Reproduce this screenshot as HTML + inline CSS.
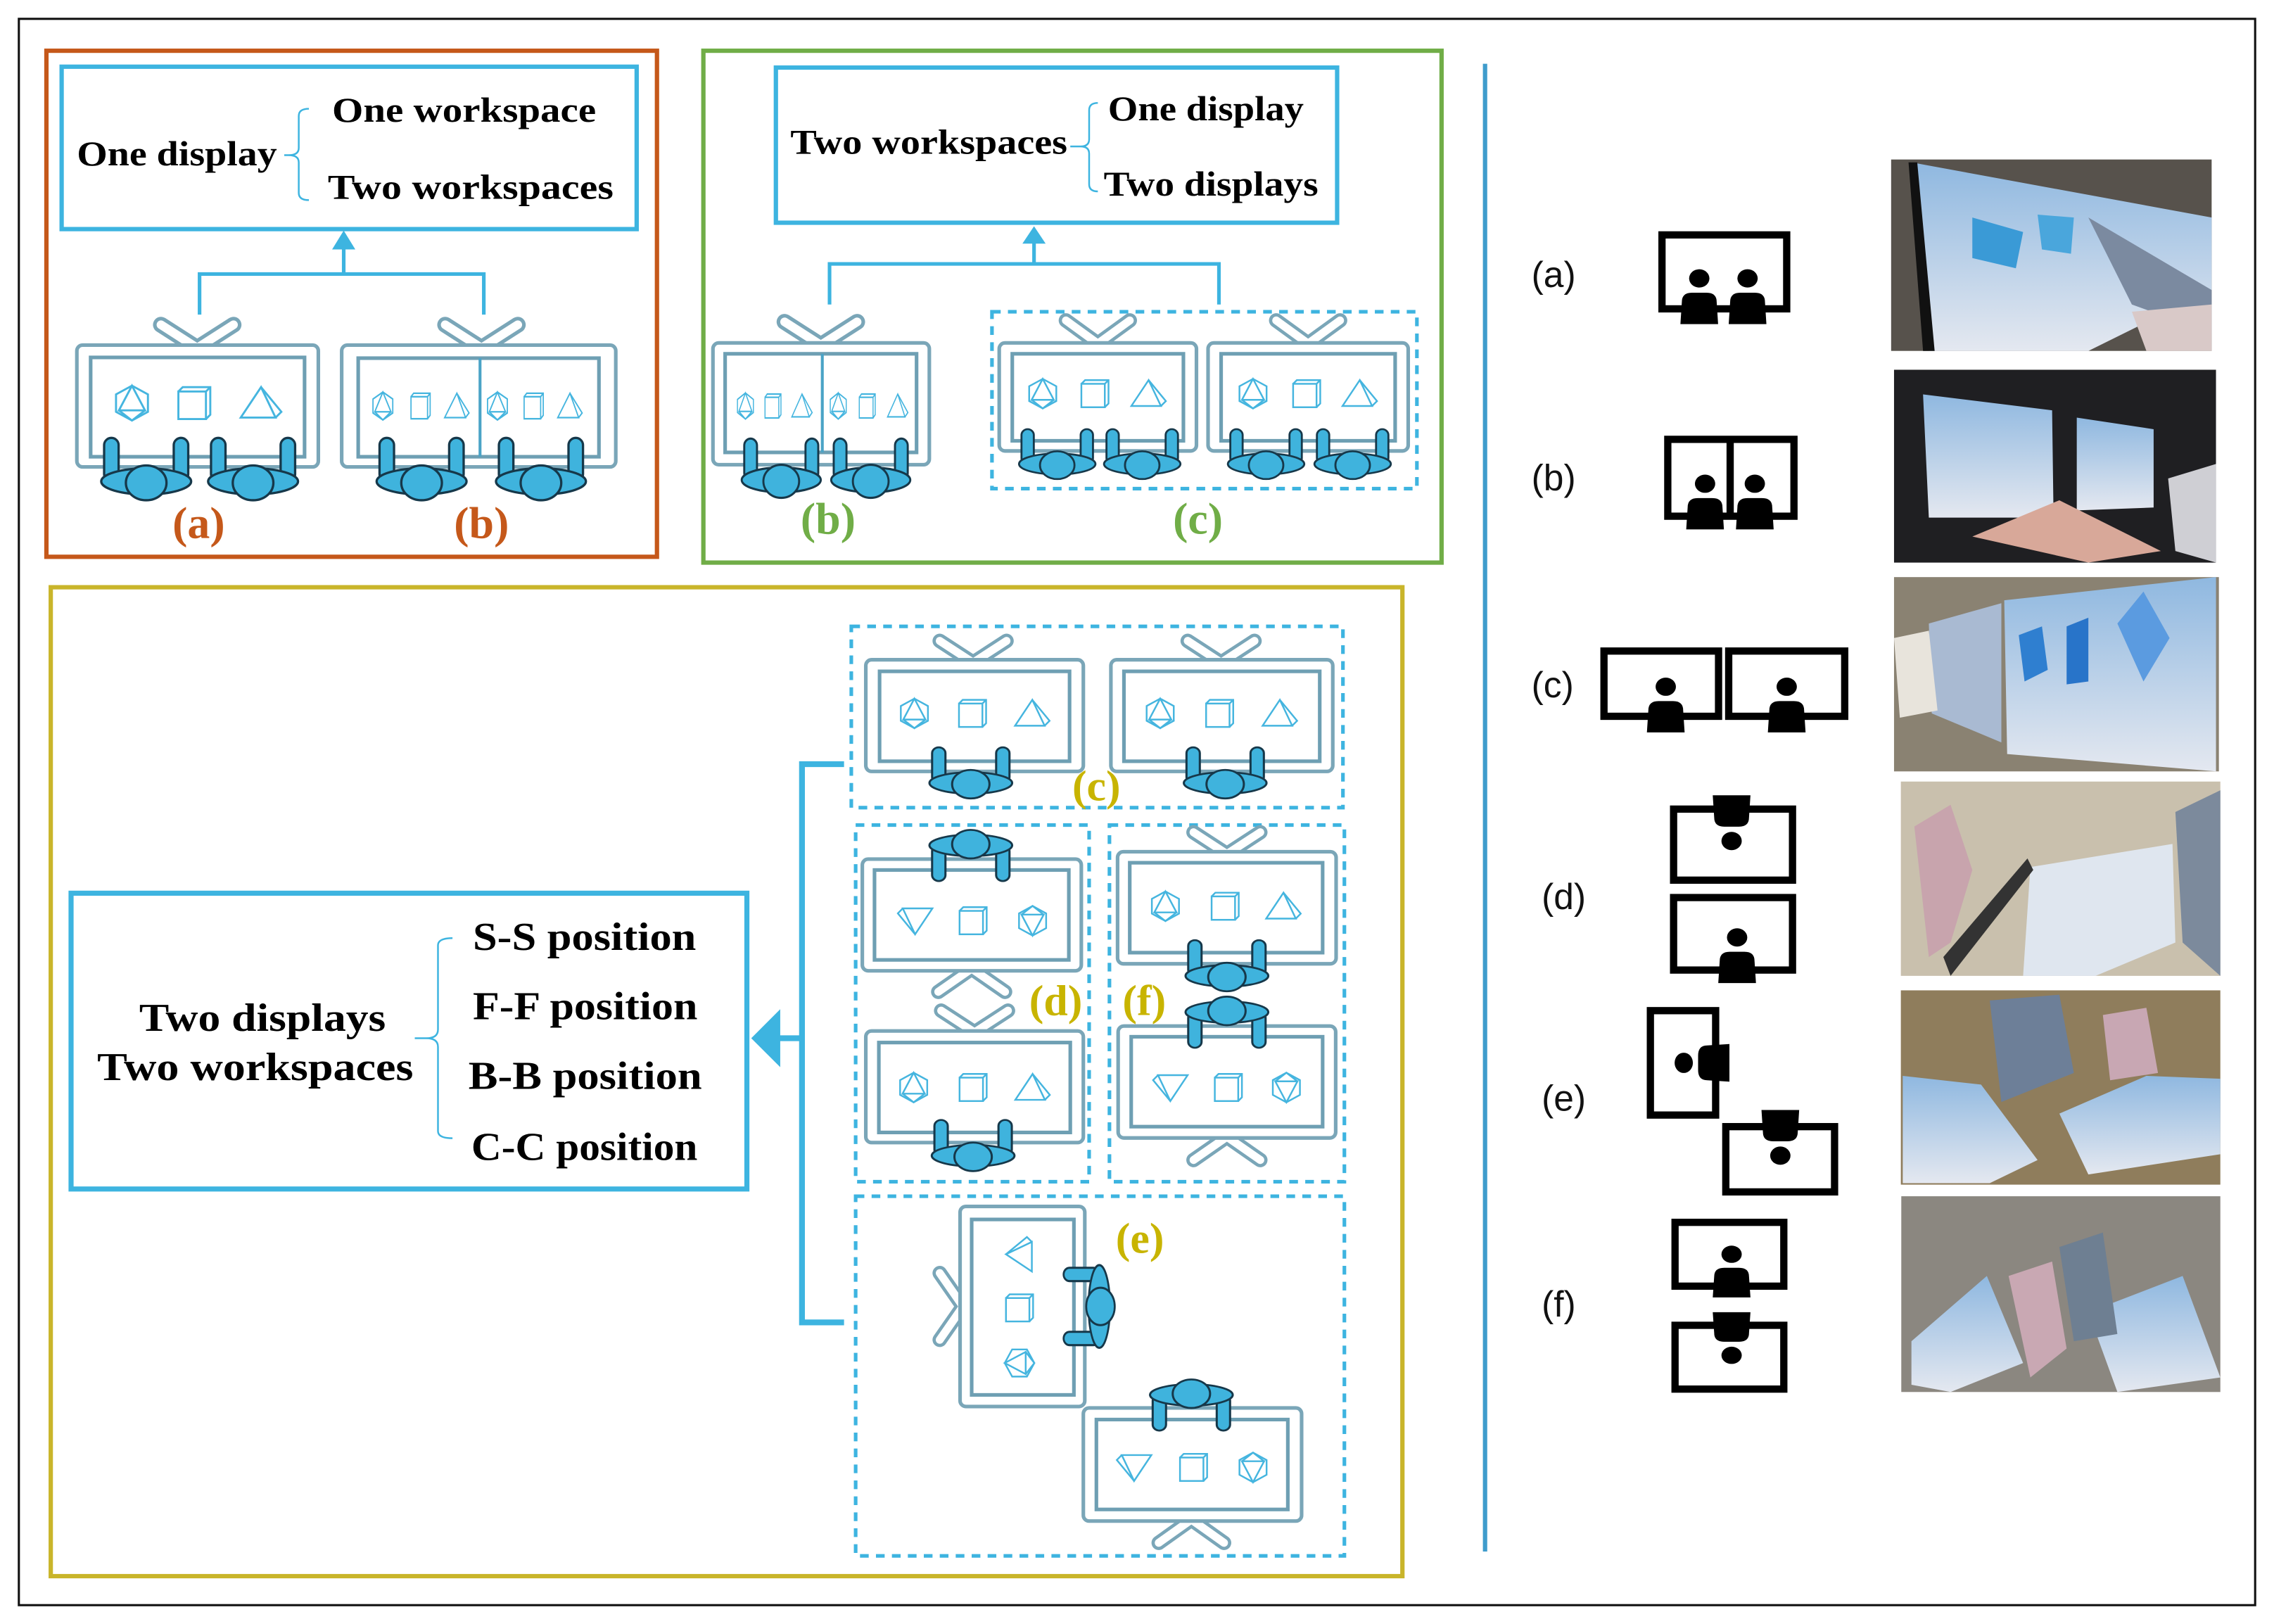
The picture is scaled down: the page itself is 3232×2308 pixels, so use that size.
<!DOCTYPE html>
<html><head><meta charset="utf-8"><style>
html,body{margin:0;padding:0;background:#fff;}
svg{display:block;}
</style></head><body>
<svg width="3232" height="2308" viewBox="0 0 1568 1120" preserveAspectRatio="none" xmlns="http://www.w3.org/2000/svg">
<defs>
  <g id="poly" fill="none" stroke="#45b5df" stroke-width="1.4">
    <polygon points="-11,-6 0,-12 11,-6 11,6 0,12 -11,6"/>
    <polygon points="0,-12 -9,5 9,5"/>
    <polyline points="-9,5 0,12 9,5"/>
  </g>
  <g id="cube" fill="none" stroke="#45b5df" stroke-width="1.4">
    <rect x="-11" y="-8" width="19" height="19"/>
    <polyline points="-11,-8 -8,-11 11,-11 11,8 8,11"/>
    <line x1="8" y1="-8" x2="11" y2="-11"/>
  </g>
  <g id="tri" fill="none" stroke="#45b5df" stroke-width="1.4">
    <polygon points="-14,10 0,-11 10,10"/>
    <polyline points="0,-11 14,6 10,10"/>
  </g>
  <g id="pu" fill="#3fb3dd" stroke="#16384a" stroke-width="1.6">
    <rect x="-29" y="-30" width="10" height="30" rx="5"/>
    <rect x="19" y="-30" width="10" height="30" rx="5"/>
    <ellipse cx="0" cy="0" rx="31" ry="9"/>
    <ellipse cx="0" cy="1" rx="14" ry="12"/>
  </g>
  <g id="bp" fill="#000">
    <circle cx="0" cy="0" r="7"/>
    <path d="M-13,35 L-12,18 Q-12,11 -5,11 L5,11 Q12,11 12,18 L13,35 Z"/>
  </g>
  <linearGradient id="scr" x1="0" y1="0" x2="0" y2="1">
    <stop offset="0" stop-color="#8fb8e0"/><stop offset="1" stop-color="#e4e8f0"/>
  </linearGradient>
</defs>

<!-- outer border -->
<rect x="13" y="13" width="1542" height="1094" fill="#fff" stroke="#111" stroke-width="1.5"/>

<!-- ============ ORANGE PANEL ============ -->
<rect x="32" y="35" width="421" height="349" fill="none" stroke="#c5581a" stroke-width="3"/>
<rect x="42.5" y="46" width="396.5" height="112" fill="none" stroke="#3db4e0" stroke-width="3"/>
<g font-family="Liberation Serif, serif" font-weight="bold" font-size="24" fill="#000">
  <text x="53" y="114" textLength="138" lengthAdjust="spacingAndGlyphs">One display</text>
  <text x="229" y="84" textLength="182" lengthAdjust="spacingAndGlyphs">One workspace</text>
  <text x="226" y="137" textLength="197" lengthAdjust="spacingAndGlyphs">Two workspaces</text>
</g>
<path d="M213,75 Q206,75 206,80 L206,102 Q206,107 199,107 Q206,107 206,112 L206,133 Q206,138 213,138 M196,107 L200,107" fill="none" stroke="#3db4e0" stroke-width="1.2"/>
<!-- connector -->
<path d="M137.6,217 L137.6,189 L333.6,189 L333.6,217 M237,189 L237,170" fill="none" stroke="#3db4e0" stroke-width="2.5"/>
<polygon points="229,172 245,172 237,159" fill="#3db4e0"/>

<!-- display (a) -->
<path d="M111,224 L136,240 L161,224" fill="none" stroke="#7aa6b8" stroke-width="11" stroke-linecap="round" stroke-linejoin="round"/>
<path d="M111,224 L136,240 L161,224" fill="none" stroke="#fff" stroke-width="6" stroke-linecap="round" stroke-linejoin="round"/>
<rect x="53" y="238" width="166.5" height="84" rx="4" fill="#fff" stroke="#7aa6b8" stroke-width="2.5"/>
<rect x="62.5" y="246.5" width="147.5" height="68.5" fill="none" stroke="#6e9fb3" stroke-width="2.5"/>
<use href="#poly" transform="translate(91,278)"/>
<use href="#cube" transform="translate(134,278)"/>
<use href="#tri" transform="translate(180,278)"/>
<use href="#pu" transform="translate(100.8,332)"/>
<use href="#pu" transform="translate(174.5,332)"/>

<!-- display (b) orange -->
<path d="M307,224 L332,240 L357,224" fill="none" stroke="#7aa6b8" stroke-width="11" stroke-linecap="round" stroke-linejoin="round"/>
<path d="M307,224 L332,240 L357,224" fill="none" stroke="#fff" stroke-width="6" stroke-linecap="round" stroke-linejoin="round"/>
<rect x="235.6" y="238" width="189" height="84" rx="4" fill="#fff" stroke="#7aa6b8" stroke-width="2.5"/>
<rect x="247" y="247" width="166" height="68" fill="none" stroke="#6e9fb3" stroke-width="2.5"/>
<line x1="331" y1="247" x2="331" y2="315" stroke="#4aa3c6" stroke-width="2"/>
<g>
<use href="#poly" transform="translate(264,280) scale(0.62,0.8)"/>
<use href="#cube" transform="translate(290,280) scale(0.6,0.8)"/>
<use href="#tri" transform="translate(315,280) scale(0.6,0.8)"/>
<use href="#poly" transform="translate(343,280) scale(0.62,0.8)"/>
<use href="#cube" transform="translate(368,280) scale(0.6,0.8)"/>
<use href="#tri" transform="translate(393,280) scale(0.6,0.8)"/>
</g>
<use href="#pu" transform="translate(290.7,332)"/>
<use href="#pu" transform="translate(373,332)"/>
<g font-family="Liberation Serif, serif" font-weight="bold" font-size="31" fill="#c5581a" text-anchor="middle">
  <text x="137" y="371">(a)</text>
  <text x="332" y="371">(b)</text>
</g>

<!-- ============ GREEN PANEL ============ -->
<rect x="485" y="35" width="509" height="353" fill="none" stroke="#70ad47" stroke-width="3"/>
<rect x="535" y="46.6" width="387" height="107" fill="none" stroke="#3db4e0" stroke-width="3"/>
<g font-family="Liberation Serif, serif" font-weight="bold" font-size="24" fill="#000">
  <text x="545" y="106" textLength="191" lengthAdjust="spacingAndGlyphs">Two workspaces</text>
  <text x="764" y="83" textLength="135" lengthAdjust="spacingAndGlyphs">One display</text>
  <text x="761" y="135" textLength="148" lengthAdjust="spacingAndGlyphs">Two displays</text>
</g>
<path d="M757,71 Q751,71 751,76 L751,96 Q751,101 745,101 Q751,101 751,106 L751,127 Q751,132 757,132 M738,101 L745,101" fill="none" stroke="#3db4e0" stroke-width="1.2"/>
<path d="M572,210 L572,182 L840.5,182 L840.5,210 M713,182 L713,166" fill="none" stroke="#3db4e0" stroke-width="2.5"/>
<polygon points="705,168 721,168 713,156" fill="#3db4e0"/>

<!-- green b display -->
<path d="M541,222 L566,238 L591,222" fill="none" stroke="#7aa6b8" stroke-width="11" stroke-linecap="round" stroke-linejoin="round"/>
<path d="M541,222 L566,238 L591,222" fill="none" stroke="#fff" stroke-width="6" stroke-linecap="round" stroke-linejoin="round"/>
<rect x="491.6" y="236.5" width="149.2" height="84" rx="4" fill="#fff" stroke="#7aa6b8" stroke-width="2.5"/>
<rect x="500" y="244" width="132" height="68" fill="none" stroke="#6e9fb3" stroke-width="2.5"/>
<line x1="567" y1="244" x2="567" y2="312" stroke="#4aa3c6" stroke-width="2"/>
<use href="#poly" transform="translate(514,280) scale(0.5,0.75)"/>
<use href="#cube" transform="translate(533,280) scale(0.5,0.75)"/>
<use href="#tri" transform="translate(553,280) scale(0.5,0.75)"/>
<use href="#poly" transform="translate(578,280) scale(0.5,0.75)"/>
<use href="#cube" transform="translate(598,280) scale(0.5,0.75)"/>
<use href="#tri" transform="translate(619,280) scale(0.5,0.75)"/>
<use href="#pu" transform="translate(538.7,331) scale(0.88,0.95)"/>
<use href="#pu" transform="translate(600.4,331) scale(0.88,0.95)"/>

<!-- green c dashed -->
<rect x="684" y="215" width="293" height="122" fill="none" stroke="#3db4e0" stroke-width="2.5" stroke-dasharray="6,5"/>
<path d="M735,221 L757,237 L779,221" fill="none" stroke="#7aa6b8" stroke-width="10" stroke-linecap="round" stroke-linejoin="round"/>
<path d="M735,221 L757,237 L779,221" fill="none" stroke="#fff" stroke-width="5.5" stroke-linecap="round" stroke-linejoin="round"/>
<rect x="689" y="236.5" width="136" height="74.5" rx="4" fill="#fff" stroke="#7aa6b8" stroke-width="2.5"/>
<rect x="698" y="244" width="118" height="60" fill="none" stroke="#6e9fb3" stroke-width="2.5"/>
<path d="M880,221 L902,237 L924,221" fill="none" stroke="#7aa6b8" stroke-width="10" stroke-linecap="round" stroke-linejoin="round"/>
<path d="M880,221 L902,237 L924,221" fill="none" stroke="#fff" stroke-width="5.5" stroke-linecap="round" stroke-linejoin="round"/>
<rect x="833" y="236.5" width="138" height="74.5" rx="4" fill="#fff" stroke="#7aa6b8" stroke-width="2.5"/>
<rect x="842" y="244" width="120" height="60" fill="none" stroke="#6e9fb3" stroke-width="2.5"/>
<use href="#poly" transform="translate(719,271.5) scale(0.85)"/>
<use href="#cube" transform="translate(755,271.5) scale(0.85)"/>
<use href="#tri" transform="translate(792,271.5) scale(0.85)"/>
<use href="#poly" transform="translate(864,271.5) scale(0.85)"/>
<use href="#cube" transform="translate(901,271.5) scale(0.85)"/>
<use href="#tri" transform="translate(937.6,271.5) scale(0.85)"/>
<use href="#pu" transform="translate(729,320) scale(0.85,0.8)"/>
<use href="#pu" transform="translate(787.6,320) scale(0.85,0.8)"/>
<use href="#pu" transform="translate(873,320) scale(0.85,0.8)"/>
<use href="#pu" transform="translate(932.7,320) scale(0.85,0.8)"/>
<g font-family="Liberation Serif, serif" font-weight="bold" font-size="31" fill="#70ad47" text-anchor="middle">
  <text x="571" y="368">(b)</text>
  <text x="826" y="368">(c)</text>
</g>

<!-- ============ YELLOW PANEL ============ -->
<rect x="35" y="405" width="932" height="682" fill="none" stroke="#c9b52a" stroke-width="3"/>
<rect x="49" y="616" width="466" height="204" fill="none" stroke="#3db4e0" stroke-width="3.5"/>
<g font-family="Liberation Serif, serif" font-weight="bold" font-size="27" fill="#000">
  <text x="96" y="711" textLength="170" lengthAdjust="spacingAndGlyphs">Two displays</text>
  <text x="67" y="745" textLength="218" lengthAdjust="spacingAndGlyphs">Two workspaces</text>
  <text x="326" y="655" textLength="154" lengthAdjust="spacingAndGlyphs">S-S position</text>
  <text x="326" y="703" textLength="155" lengthAdjust="spacingAndGlyphs">F-F position</text>
  <text x="323" y="751" textLength="161" lengthAdjust="spacingAndGlyphs">B-B position</text>
  <text x="325" y="800" textLength="156" lengthAdjust="spacingAndGlyphs">C-C position</text>
</g>
<path d="M312,647 Q302,647 302,652 L302,710 Q302,716 294,716 Q302,716 302,722 L302,780 Q302,785 312,785 M286,716 L294,716" fill="none" stroke="#3db4e0" stroke-width="1.2"/>
<!-- yellow connector -->
<path d="M582,527 L553,527 L553,912 L582,912 M553,716 L535,716" fill="none" stroke="#3db4e0" stroke-width="4"/>
<polygon points="518,716 538,696 538,736" fill="#3db4e0"/>

<!-- dashed boxes -->
<g fill="none" stroke="#3db4e0" stroke-width="2.5" stroke-dasharray="6,5">
  <rect x="587" y="432" width="339" height="125"/>
  <rect x="590" y="569" width="161" height="246"/>
  <rect x="765" y="569" width="162" height="246"/>
  <rect x="590" y="825" width="337" height="248"/>
</g>

<!-- c1 -->
<path d="M648,442 L671,457 L694,442" fill="none" stroke="#7aa6b8" stroke-width="10" stroke-linecap="round" stroke-linejoin="round"/>
<path d="M648,442 L671,457 L694,442" fill="none" stroke="#fff" stroke-width="5.5" stroke-linecap="round" stroke-linejoin="round"/>
<rect x="597" y="455" width="150" height="77" rx="4" fill="#fff" stroke="#7aa6b8" stroke-width="2.5"/>
<rect x="606.5" y="463" width="131" height="62" fill="none" stroke="#6e9fb3" stroke-width="2.5"/>
<use href="#poly" transform="translate(630.5,492) scale(0.85)"/>
<use href="#cube" transform="translate(670.6,492) scale(0.85)"/>
<use href="#tri" transform="translate(711.8,492) scale(0.85)"/>
<use href="#pu" transform="translate(669.4,540) scale(0.92,0.82)"/>
<!-- c2 -->
<path d="M819,442 L842,457 L865,442" fill="none" stroke="#7aa6b8" stroke-width="10" stroke-linecap="round" stroke-linejoin="round"/>
<path d="M819,442 L842,457 L865,442" fill="none" stroke="#fff" stroke-width="5.5" stroke-linecap="round" stroke-linejoin="round"/>
<rect x="766" y="455" width="153" height="77" rx="4" fill="#fff" stroke="#7aa6b8" stroke-width="2.5"/>
<rect x="775" y="463" width="135" height="62" fill="none" stroke="#6e9fb3" stroke-width="2.5"/>
<use href="#poly" transform="translate(800,492) scale(0.85)"/>
<use href="#cube" transform="translate(841,492) scale(0.85)"/>
<use href="#tri" transform="translate(882.5,492) scale(0.85)"/>
<use href="#pu" transform="translate(844.8,540) scale(0.92,0.82)"/>

<!-- d top (V down) -->
<path d="M647,684 L670,668 L693,684" fill="none" stroke="#7aa6b8" stroke-width="10" stroke-linecap="round" stroke-linejoin="round"/>
<path d="M647,684 L670,668 L693,684" fill="none" stroke="#fff" stroke-width="5.5" stroke-linecap="round" stroke-linejoin="round"/>
<rect x="594.6" y="592.5" width="151" height="77" rx="4" fill="#fff" stroke="#7aa6b8" stroke-width="2.5"/>
<rect x="603" y="600" width="134" height="62" fill="none" stroke="#6e9fb3" stroke-width="2.5"/>
<use href="#tri" transform="translate(631,635) rotate(180) scale(0.85)"/>
<use href="#cube" transform="translate(671,635) scale(0.85)"/>
<use href="#poly" transform="translate(712,635) rotate(180) scale(0.85)"/>
<use href="#pu" transform="translate(669.4,583) rotate(180) scale(0.92,0.82)"/>
<!-- d bottom (V up) -->
<path d="M649,697 L672,712 L695,697" fill="none" stroke="#7aa6b8" stroke-width="10" stroke-linecap="round" stroke-linejoin="round"/>
<path d="M649,697 L672,712 L695,697" fill="none" stroke="#fff" stroke-width="5.5" stroke-linecap="round" stroke-linejoin="round"/>
<rect x="597" y="711" width="150" height="77" rx="4" fill="#fff" stroke="#7aa6b8" stroke-width="2.5"/>
<rect x="606" y="719" width="132" height="62" fill="none" stroke="#6e9fb3" stroke-width="2.5"/>
<use href="#poly" transform="translate(630,750) scale(0.85)"/>
<use href="#cube" transform="translate(671,750) scale(0.85)"/>
<use href="#tri" transform="translate(712,750) scale(0.85)"/>
<use href="#pu" transform="translate(671,797) scale(0.92,0.82)"/>

<!-- f top (V up) -->
<path d="M823,574 L846,589 L869,574" fill="none" stroke="#7aa6b8" stroke-width="10" stroke-linecap="round" stroke-linejoin="round"/>
<path d="M823,574 L846,589 L869,574" fill="none" stroke="#fff" stroke-width="5.5" stroke-linecap="round" stroke-linejoin="round"/>
<rect x="770.6" y="587.4" width="150.7" height="77.3" rx="4" fill="#fff" stroke="#7aa6b8" stroke-width="2.5"/>
<rect x="779" y="595" width="133" height="62" fill="none" stroke="#6e9fb3" stroke-width="2.5"/>
<use href="#poly" transform="translate(803.6,625) scale(0.85)"/>
<use href="#cube" transform="translate(844.8,625) scale(0.85)"/>
<use href="#tri" transform="translate(885,625) scale(0.85)"/>
<use href="#pu" transform="translate(846,673) scale(0.92,0.82)"/>
<!-- f bottom (V down) -->
<path d="M823,800 L846,784 L869,800" fill="none" stroke="#7aa6b8" stroke-width="10" stroke-linecap="round" stroke-linejoin="round"/>
<path d="M823,800 L846,784 L869,800" fill="none" stroke="#fff" stroke-width="5.5" stroke-linecap="round" stroke-linejoin="round"/>
<rect x="771" y="707.6" width="150" height="77.2" rx="4" fill="#fff" stroke="#7aa6b8" stroke-width="2.5"/>
<rect x="780" y="715" width="132" height="62" fill="none" stroke="#6e9fb3" stroke-width="2.5"/>
<use href="#tri" transform="translate(807,750) rotate(180) scale(0.85)"/>
<use href="#cube" transform="translate(847,750) scale(0.85)"/>
<use href="#poly" transform="translate(887,750) rotate(180) scale(0.85)"/>
<use href="#pu" transform="translate(846,698) rotate(180) scale(0.92,0.82)"/>

<!-- e vertical (V left) -->
<path d="M648,878 L664,901 L648,924" fill="none" stroke="#7aa6b8" stroke-width="10" stroke-linecap="round" stroke-linejoin="round"/>
<path d="M648,878 L664,901 L648,924" fill="none" stroke="#fff" stroke-width="5.5" stroke-linecap="round" stroke-linejoin="round"/>
<rect x="662" y="832" width="86" height="138" rx="4" fill="#fff" stroke="#7aa6b8" stroke-width="2.5"/>
<rect x="670" y="841" width="70.5" height="121" fill="none" stroke="#6e9fb3" stroke-width="2.5"/>
<use href="#tri" transform="translate(703,865) rotate(-90) scale(0.85)"/>
<use href="#cube" transform="translate(703,902) scale(0.85)"/>
<use href="#poly" transform="translate(703,940) rotate(-90) scale(0.85)"/>
<use href="#pu" transform="translate(758,901) rotate(-90) scale(0.92,0.82)"/>
<!-- e bottom (V down) -->
<path d="M799,1064 L821.5,1048 L844,1064" fill="none" stroke="#7aa6b8" stroke-width="10" stroke-linecap="round" stroke-linejoin="round"/>
<path d="M799,1064 L821.5,1048 L844,1064" fill="none" stroke="#fff" stroke-width="5.5" stroke-linecap="round" stroke-linejoin="round"/>
<rect x="747" y="971" width="150.5" height="78" rx="4" fill="#fff" stroke="#7aa6b8" stroke-width="2.5"/>
<rect x="756" y="979" width="132" height="62" fill="none" stroke="#6e9fb3" stroke-width="2.5"/>
<use href="#tri" transform="translate(782,1012) rotate(180) scale(0.85)"/>
<use href="#cube" transform="translate(823,1012) scale(0.85)"/>
<use href="#poly" transform="translate(864,1012) rotate(180) scale(0.85)"/>
<use href="#pu" transform="translate(821.5,962) rotate(180) scale(0.92,0.82)"/>

<g font-family="Liberation Serif, serif" font-weight="bold" font-size="30" fill="#c8b400" text-anchor="middle">
  <text x="756" y="552">(c)</text>
  <text x="728" y="700">(d)</text>
  <text x="789" y="700">(f)</text>
  <text x="786" y="864">(e)</text>
</g>

<!-- divider -->
<line x1="1024" y1="44" x2="1024" y2="1070" stroke="#3f9ccc" stroke-width="3"/>

<!-- right labels -->
<g font-family="Liberation Sans, sans-serif" font-size="25" fill="#111">
  <text x="1056" y="198">(a)</text>
  <text x="1056" y="338">(b)</text>
  <text x="1056" y="481">(c)</text>
  <text x="1063" y="627">(d)</text>
  <text x="1063" y="766">(e)</text>
  <text x="1063" y="908">(f)</text>
</g>

<!-- right icons -->
<g fill="none" stroke="#000" stroke-width="5">
  <rect x="1146" y="162" width="86" height="51"/>
  <rect x="1150" y="303" width="87" height="53"/>
  <line x1="1193" y1="303" x2="1193" y2="356"/>
  <rect x="1106" y="449" width="79" height="45"/>
  <rect x="1192" y="449" width="80" height="45"/>
  <rect x="1154" y="558" width="82" height="49"/>
  <rect x="1154" y="619" width="82" height="50"/>
  <rect x="1138" y="697" width="45" height="72"/>
  <rect x="1190" y="777" width="75" height="45"/>
  <rect x="1155" y="843" width="75" height="44"/>
  <rect x="1155" y="914" width="75" height="44"/>
</g>
<use href="#bp" transform="translate(1171.7,192) scale(1,0.9)"/>
<use href="#bp" transform="translate(1205,192) scale(1,0.9)"/>
<use href="#bp" transform="translate(1175.7,333.6) scale(1,0.9)"/>
<use href="#bp" transform="translate(1210,333.6) scale(1,0.9)"/>
<use href="#bp" transform="translate(1148.6,473.6) scale(1,0.9)"/>
<use href="#bp" transform="translate(1232,473.6) scale(1,0.9)"/>
<use href="#bp" transform="translate(1194,580) rotate(180) scale(1,0.9)"/>
<use href="#bp" transform="translate(1197.8,646.5) scale(1,0.9)"/>
<use href="#bp" transform="translate(1161,733) rotate(-90) scale(1,0.9)"/>
<use href="#bp" transform="translate(1227.6,797) rotate(180) scale(1,0.9)"/>
<use href="#bp" transform="translate(1194,865) scale(1,0.85)"/>
<use href="#bp" transform="translate(1194,934.7) rotate(180) scale(1,0.85)"/>

<!-- photos -->
<g>
  <rect x="1304" y="110" width="221" height="132" fill="#57524c"/>
  <polygon points="1318,112 1525,150 1525,200 1440,242 1330,242" fill="url(#scr)"/>
  <polygon points="1316,112 1322,112 1334,242 1326,242" fill="#111"/>
  <polygon points="1360,150 1395,160 1390,185 1360,178" fill="#3a9ad6"/>
  <polygon points="1405,148 1430,150 1428,175 1408,172" fill="#4aa6dc"/>
  <polygon points="1440,150 1525,200 1525,230 1470,210" fill="#7b8aa0"/>
  <polygon points="1470,215 1525,210 1525,242 1480,242" fill="#d9c9c8"/>

  <rect x="1306" y="255" width="222" height="133" fill="#1f1f22"/>
  <polygon points="1326,272 1415,283 1416,357 1330,357" fill="url(#scr)"/>
  <polygon points="1432,288 1485,296 1485,350 1432,352" fill="url(#scr)"/>
  <polygon points="1360,370 1420,345 1490,380 1440,388" fill="#d8a899"/>
  <polygon points="1495,330 1528,320 1528,388 1500,380" fill="#cfcfd4"/>

  <rect x="1306" y="398" width="224" height="134" fill="#8a8272"/>
  <polygon points="1330,430 1380,416 1380,512 1332,492" fill="#a9bad2"/>
  <polygon points="1382,414 1528,398 1528,532 1384,520" fill="url(#scr)"/>
  <polygon points="1392,438 1408,432 1412,462 1396,470" fill="#2f7fd0"/>
  <polygon points="1425,432 1440,426 1440,470 1425,472" fill="#2874c9"/>
  <polygon points="1460,430 1478,408 1496,440 1478,470" fill="#5b9be0"/>
  <polygon points="1306,440 1330,435 1336,490 1310,495" fill="#e8e4dc"/>

  <rect x="1310.7" y="539" width="220.3" height="134" fill="#c9c0ad"/>
  <polygon points="1400,598 1498,582 1500,650 1445,673 1395,673" fill="#dfe6ef"/>
  <polygon points="1340,660 1398,592 1402,600 1345,673" fill="#333"/>
  <polygon points="1320,570 1345,555 1360,600 1345,650 1330,660" fill="#c8a4ad"/>
  <polygon points="1500,560 1531,545 1531,673 1505,650" fill="#7c8a9c"/>

  <rect x="1310.7" y="683" width="220.3" height="134" fill="#8f7d5c"/>
  <polygon points="1312,742 1366,748 1405,800 1372,816 1312,816" fill="url(#scr)"/>
  <polygon points="1420,768 1480,742 1531,744 1531,796 1440,810" fill="url(#scr)"/>
  <polygon points="1372,690 1420,686 1430,740 1380,760" fill="#6d7f98"/>
  <polygon points="1450,700 1480,695 1488,740 1455,745" fill="#c8a7b3"/>

  <rect x="1311" y="825" width="220" height="135" fill="#8b8780"/>
  <polygon points="1318,925 1370,880 1395,940 1345,960 1318,955" fill="url(#scr)"/>
  <polygon points="1440,905 1505,880 1531,950 1460,960" fill="url(#scr)"/>
  <polygon points="1385,880 1415,870 1425,930 1400,950" fill="#c9a8b3"/>
  <polygon points="1420,860 1450,850 1460,920 1430,925" fill="#6e7f92"/>
</g>
</svg>
</body></html>
